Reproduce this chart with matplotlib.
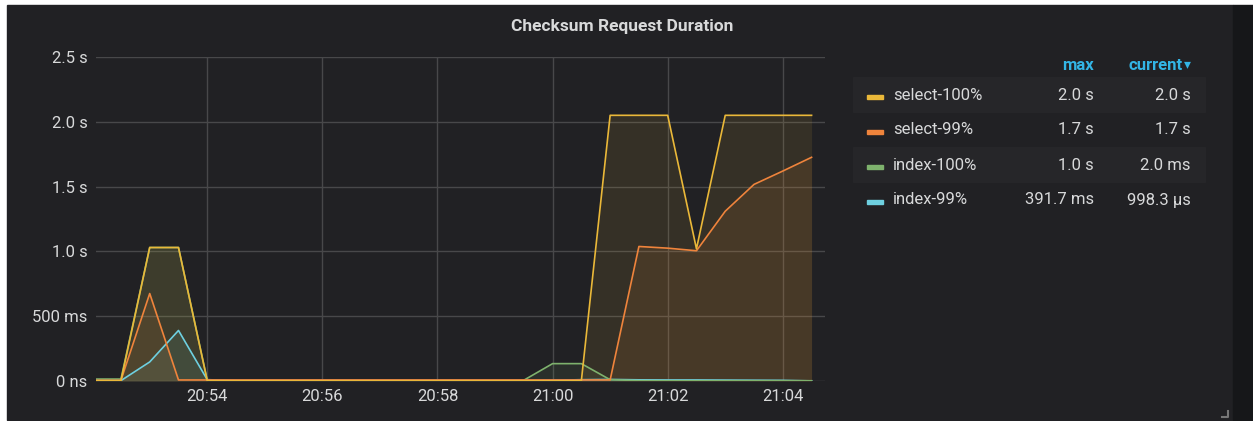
import pandas as pd
import matplotlib.pyplot as plt
import matplotlib.dates as mdates
from matplotlib.patches import Rectangle

# --- data (30 s samples) ---
times = ["20:52:00", "20:52:30", "20:53:00", "20:53:30", "20:54:00", "20:54:30",
         "20:55:00", "20:55:30", "20:56:00", "20:56:30", "20:57:00", "20:57:30",
         "20:58:00", "20:58:30", "20:59:00", "20:59:30", "21:00:00", "21:00:30",
         "21:01:00", "21:01:30", "21:02:00", "21:02:30", "21:03:00", "21:03:30",
         "21:04:00", "21:04:30"]

select_100 = [0.002, 0.002, 1.030, 1.030, 0.001, 0.001, 0.001, 0.001, 0.001, 0.001,
              0.001, 0.001, 0.001, 0.001, 0.001, 0.001, 0.001, 0.002, 2.050, 2.050,
              2.050, 1.020, 2.050, 2.050, 2.050, 2.050]
select_99 = [0.005, 0.005, 0.675, 0.008, 0.008, 0.008, 0.008, 0.008, 0.008, 0.008,
             0.008, 0.008, 0.008, 0.008, 0.008, 0.008, 0.008, 0.008, 0.008, 1.038,
             1.025, 1.005, 1.310, 1.517, 1.620, 1.726]
index_100 = [0.015, 0.015, 1.030, 1.030, 0.006, 0.005, 0.005, 0.005, 0.005, 0.005,
             0.005, 0.005, 0.005, 0.005, 0.005, 0.006, 0.134, 0.134, 0.010, 0.003,
             0.002, 0.002, 0.002, 0.002, 0.002, 0.002]
index_99 = [0.003, 0.003, 0.147, 0.390, 0.010, 0.004, 0.004, 0.004, 0.004, 0.004,
            0.004, 0.004, 0.004, 0.004, 0.004, 0.004, 0.006, 0.010, 0.012, 0.009,
            0.008, 0.008, 0.007, 0.006, 0.005, 0.001]

series_names = ["select-100%", "select-99%", "index-100%", "index-99%"]
series_colors = ["#EAB839", "#EF843C", "#7EB26D", "#6ED0E0"]
max_labels = ["2.0 s", "1.7 s", "1.0 s", "391.7 ms"]
current_labels = ["2.0 s", "1.7 s", "2.0 ms", "998.3 µs"]

y_ticks = [0, 0.5, 1.0, 1.5, 2.0, 2.5]
y_tick_labels = ["0 ns", "500 ms", "1.0 s", "1.5 s", "2.0 s", "2.5 s"]

# --- style ---
plt.rcParams['font.family'] = ['Roboto', 'DejaVu Sans']
W, H = 1253, 421
panel_bg = "#212124"
text_col = "#d8d9da"
grid_col = "#48484a"

fig = plt.figure(figsize=(W / 100, H / 100), dpi=100)
fig.patch.set_facecolor("white")


def fx(x):
    return x / W


def fy(y):
    return 1 - y / H


# panel + page background
fig.patches.append(Rectangle((fx(7), fy(420)), fx(1233 - 7), (420 - 5) / H,
                             transform=fig.transFigure, color=panel_bg, zorder=-3))
fig.patches.append(Rectangle((fx(1233), fy(420)), fx(W - 1233), (420 - 5) / H,
                             transform=fig.transFigure, color="#161719", zorder=-3))

ax = fig.add_axes([fx(96), fy(381), fx(825 - 96), (381 - 57) / H])
ax.set_facecolor("none")

t = pd.to_datetime(["2018-06-01 " + s for s in times])
all_series = [select_100, select_99, index_100, index_99]
for k, (vals, name, col) in enumerate(zip(all_series, series_names, series_colors)):
    z = 10 - k  # first series ends up on top
    ax.fill_between(t, 0, vals, color=col, alpha=0.1, linewidth=0, zorder=z - 5)
    ax.plot(t, vals, color=col, linewidth=1.2, label=name, zorder=z)

ax.set_xlim(pd.Timestamp("2018-06-01 20:52:04"), pd.Timestamp("2018-06-01 21:04:44"))
ax.set_ylim(0, 2.5)
ax.set_yticks(y_ticks)
ax.set_yticklabels(y_tick_labels)
ax.xaxis.set_major_locator(mdates.MinuteLocator(byminute=range(0, 60, 2)))
ax.xaxis.set_major_formatter(mdates.DateFormatter("%H:%M"))
ax.tick_params(length=0, colors=text_col, labelsize=12)
ax.tick_params(axis="y", pad=6)
ax.tick_params(axis="x", pad=6)
ax.grid(True, color=grid_col, linewidth=1)
ax.set_axisbelow(True)
for sp in ax.spines.values():
    sp.set_visible(False)

fig.text(fx(622), fy(26), "Checksum Request Duration", color=text_col,
         fontsize=12.5, fontweight="bold", ha="center", va="center")

# --- legend table ---
hdr_col = "#33b5e5"
fig.text(fx(1094), fy(65), "max", color=hdr_col, fontsize=12, fontweight="bold",
         ha="right", va="center")
fig.text(fx(1183), fy(65), "current", color=hdr_col, fontsize=12, fontweight="bold",
         ha="right", va="center")
fig.text(fx(1184), fy(64), "▾", color=hdr_col, fontsize=10, ha="left", va="center",
         family=["DejaVu Sans"])

row_y = [95, 130, 165, 200]
for i, (name, col, mx, cur) in enumerate(zip(series_names, series_colors, max_labels, current_labels)):
    y = row_y[i]
    if i % 2 == 0:
        fig.patches.append(Rectangle((fx(853), fy(y + 17)), fx(1205 - 853), 35 / H,
                                     transform=fig.transFigure, color="#262629", zorder=-2))
    fig.patches.append(Rectangle((fx(867), fy(y + 4)), fx(16), 4 / H,
                                 transform=fig.transFigure, color=col, zorder=1))
    fig.text(fx(893), fy(y), name, color=text_col, fontsize=12, ha="left", va="center")
    fig.text(fx(1094), fy(y), mx, color=text_col, fontsize=12, ha="right", va="center")
    fig.text(fx(1191), fy(y), cur, color=text_col, fontsize=12, ha="right", va="center")

# resize handle in the corner
fig.lines.append(plt.Line2D([fx(1222), fx(1228), fx(1228)], [fy(417), fy(417), fy(411)],
                            transform=fig.transFigure, color="#777777", linewidth=1.5))

fig.savefig("out.png", dpi=100, facecolor=fig.get_facecolor())
